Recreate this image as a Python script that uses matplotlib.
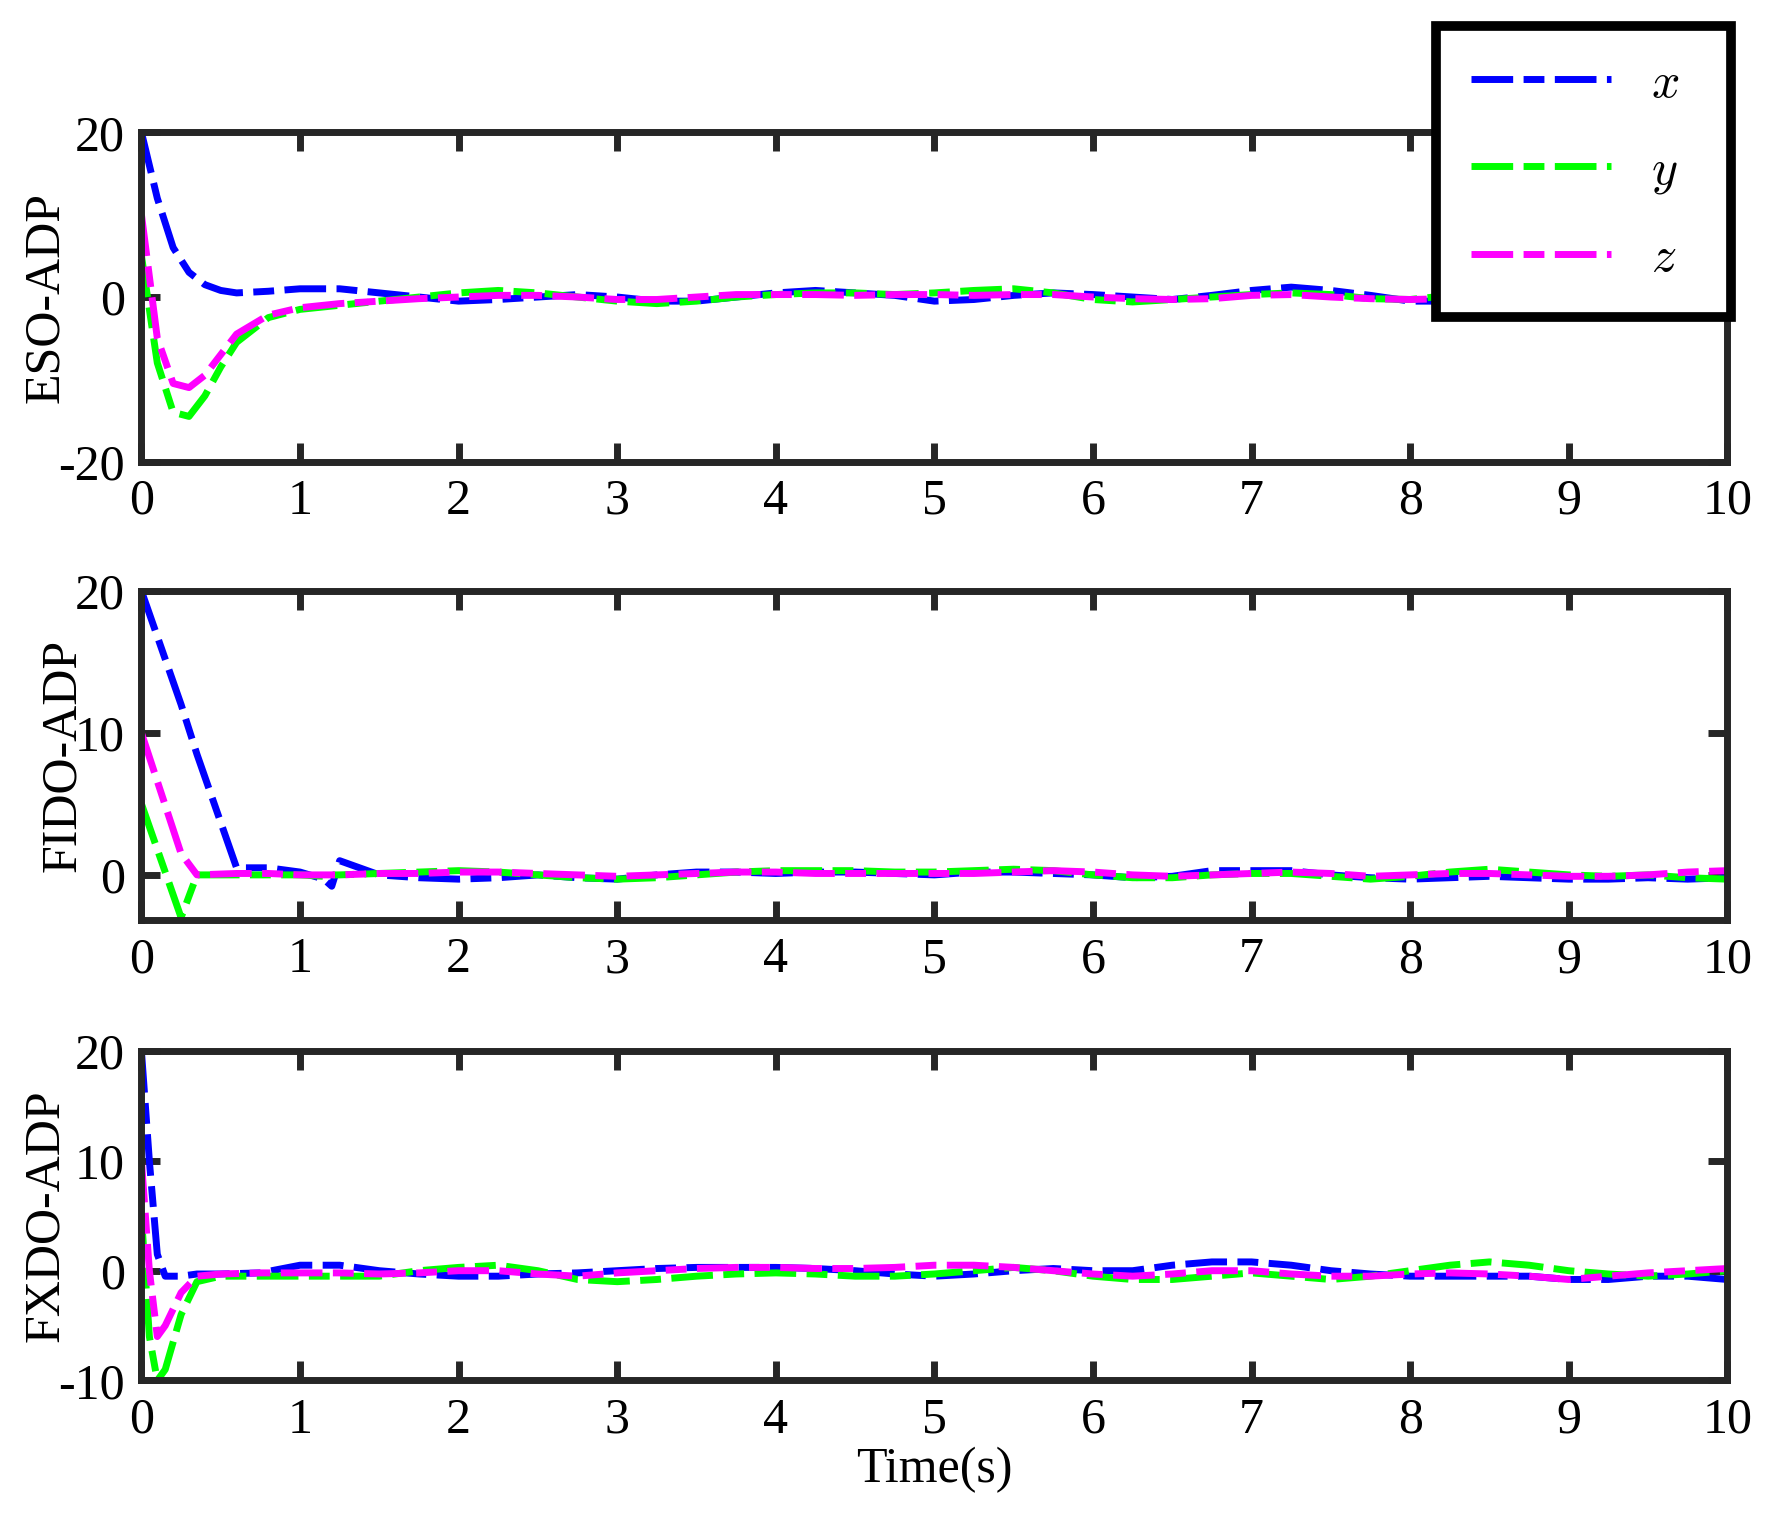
import numpy as np
import matplotlib.pyplot as plt

plt.rcParams['font.family'] = ['Liberation Serif', 'DejaVu Serif']
plt.rcParams['mathtext.fontset'] = 'cm'
plt.rcParams['axes.unicode_minus'] = False

# ---- data ----
t_tail = [1.25, 1.5, 1.75, 2.0, 2.25, 2.5, 2.75, 3.0, 3.25, 3.5, 3.75, 4.0, 4.25, 4.5, 4.75, 5.0,
          5.25, 5.5, 5.75, 6.0, 6.25, 6.5, 6.75, 7.0, 7.25, 7.5, 7.75, 8.0, 8.25, 8.5, 8.75, 9.0,
          9.25, 9.5, 9.75, 10.0]

# ESO-ADP
eso_t = [0, 0.1, 0.2, 0.3, 0.4, 0.5, 0.6, 0.8, 1.0]
eso_x = [20, 12, 6, 3, 1.5, 0.8, 0.5, 0.7, 1.0] + [1.0, 0.5, 0, -0.5, -0.3, 0, 0.3, 0, -0.5, -0.5, 0, 0.5,
          0.8, 0.5, 0.2, -0.5, -0.3, 0.2, 0.5, 0.3, 0, -0.3, 0.2, 0.8, 1.2, 0.8, 0.2, -0.5, -0.5, -0.3,
          0, 0.2, 0.2, -0.2, -0.5, -0.5]
eso_y = [5, -8, -14, -14.5, -12, -8.5, -5.5, -2.5, -1.5] + [-1.0, -0.5, 0, 0.5, 0.8, 0.5, 0, -0.5, -0.8,
          -0.5, 0, 0.3, 0.5, 0.5, 0.3, 0.5, 0.8, 1.0, 0.5, -0.3, -0.6, -0.3, 0, 0.3, 0.5, 0.3, -0.2,
          -0.3, 0.2, 0.3, 0, -0.5, -0.8, -0.6, -0.3, -0.3]
eso_z = [10, -5, -10.5, -11, -9.5, -7, -4.5, -2.2, -1.3] + [-0.8, -0.5, -0.2, 0, 0.2, 0.2, 0, -0.3, -0.3,
          0, 0.3, 0.3, 0.3, 0.2, 0.3, 0.3, 0.2, 0.3, 0.3, 0, -0.2, -0.3, -0.2, 0.2, 0.3, 0, -0.2, -0.3,
          -0.2, 0, 0, -0.2, -0.3, -0.2, -0.3, -0.3]

# FIDO-ADP
fido_t = [0, 0.25, 0.35, 0.6, 0.8, 1.0, 1.15, 1.2]
fido_x = [20, 12, 8.5, 0.5, 0.5, 0.2, -0.3, -0.8] + [1.0, 0, -0.2, -0.3, -0.2, 0, -0.2, -0.3, 0, 0.2,
          0.2, 0.1, 0.2, 0.2, 0.1, 0, 0.2, 0.2, 0.1, 0, -0.2, -0.1, 0.3, 0.3, 0.3, 0, -0.2, -0.3,
          -0.2, -0.1, -0.2, -0.3, -0.3, -0.2, -0.3, -0.2]
fido_y = [5, -3, 0, 0, 0, 0, -0.1, 0] + [0, 0.1, 0.2, 0.3, 0.2, 0, -0.2, -0.3, -0.2, 0, 0.2, 0.3, 0.3,
          0.3, 0.2, 0.2, 0.3, 0.4, 0.3, 0, -0.2, -0.2, 0, 0.1, 0.1, -0.1, -0.3, -0.1, 0.2, 0.4,
          0.2, 0, -0.1, 0, -0.2, -0.3]
fido_z = [10, 1.5, 0, 0.1, 0.1, 0, 0, 0] + [0, 0.1, 0.1, 0.2, 0.2, 0.1, 0, -0.1, 0, 0.1, 0.2, 0.2,
          0.1, 0.1, 0.1, 0.1, 0.1, 0.2, 0.3, 0.2, 0, -0.1, 0, 0.1, 0.2, 0.1, -0.1, 0, 0.1, 0.1,
          0, -0.1, -0.1, 0, 0.2, 0.3]

# FXDO-ADP
fxdo_t = [0, 0.05, 0.1, 0.15, 0.25, 0.35, 0.5, 0.75, 1.0]
fxdo_x = [20, 10, 1.5, -0.5, -0.5, -0.3, -0.3, -0.2, 0.5] + [0.5, 0, -0.3, -0.5, -0.5, -0.3, -0.2,
          0, 0.2, 0.3, 0.3, 0.3, 0.2, 0, -0.3, -0.5, -0.3, 0, 0.2, 0, 0, 0.5, 0.8, 0.8, 0.5, 0,
          -0.3, -0.5, -0.5, -0.5, -0.5, -0.8, -0.8, -0.5, -0.5, -0.8]
fxdo_y = [5, -6, -10, -9, -4, -1, -0.5, -0.5, -0.5] + [-0.5, -0.5, 0, 0.3, 0.5, 0, -0.8, -1.0, -0.8,
          -0.5, -0.3, -0.2, -0.3, -0.5, -0.5, -0.3, 0, 0.3, 0, -0.5, -0.8, -0.8, -0.5, -0.2, -0.5,
          -0.8, -0.5, 0, 0.5, 0.8, 0.5, 0, -0.3, -0.5, -0.3, 0]
fxdo_z = [10, 0, -6, -5, -2, -0.5, -0.3, -0.2, -0.2] + [-0.2, -0.3, -0.2, 0, 0, -0.3, -0.5, -0.2, 0,
          0.2, 0.3, 0.3, 0.2, 0.2, 0.3, 0.5, 0.5, 0.3, 0, -0.3, -0.5, -0.3, 0, 0, -0.3, -0.5, -0.5,
          -0.3, -0.2, -0.3, -0.5, -0.8, -0.5, -0.2, 0, 0.2]

panels = [
    ('ESO-ADP', eso_t, eso_x, eso_y, eso_z, (-20, 20), [-20, 0, 20]),
    ('FIDO-ADP', fido_t, fido_x, fido_y, fido_z, (-3.2, 20), [0, 10, 20]),
    ('FXDO-ADP', fxdo_t, fxdo_x, fxdo_y, fxdo_z, (-10, 20), [-10, 0, 10, 20]),
]
colors = {'x': '#0000ff', 'y': '#00ff00', 'z': '#ff00ff'}
dash = (6.0, 1.5, 3.0, 1.5)

fig = plt.figure(figsize=(17.68, 15.39), dpi=100)
boxes = [(0.080, 0.700), (0.080, 0.402), (0.080, 0.103)]
axes = []
for (name, t0, xs, ys, zs, ylim, yt), (l, b) in zip(panels, boxes):
    ax = fig.add_axes([l, b, 0.897, 0.214])
    t = np.array(t0 + t_tail)
    for lab, vals in (('x', xs), ('y', ys), ('z', zs)):
        ax.plot(t, vals, color=colors[lab], lw=5, dashes=dash, label='$' + lab + '$')
    ax.set_xlim(0, 10)
    ax.set_ylim(*ylim)
    ax.set_xticks(range(11))
    ax.set_yticks(yt)
    ax.set_ylabel(name, fontsize=36, labelpad=-8)
    ax.tick_params(direction='in', length=14, width=5, labelsize=36, pad=12,
                   top=True, right=True, color='#262626')
    for s in ax.spines.values():
        s.set_linewidth(5)
        s.set_color('#262626')
    axes.append(ax)

axes[2].set_xlabel('Time(s)', fontsize=36, labelpad=2)

leg = fig.legend(*axes[0].get_legend_handles_labels(), loc='upper left',
                 bbox_to_anchor=(0.812, 0.805, 0.167, 0.178), mode='expand',
                 fontsize=36, handlelength=2.8, labelspacing=0.8, borderpad=0.7,
                 fancybox=False, framealpha=1, edgecolor='black', borderaxespad=0)
leg.get_frame().set_linewidth(7)

fig.savefig('out.png', dpi=100)
